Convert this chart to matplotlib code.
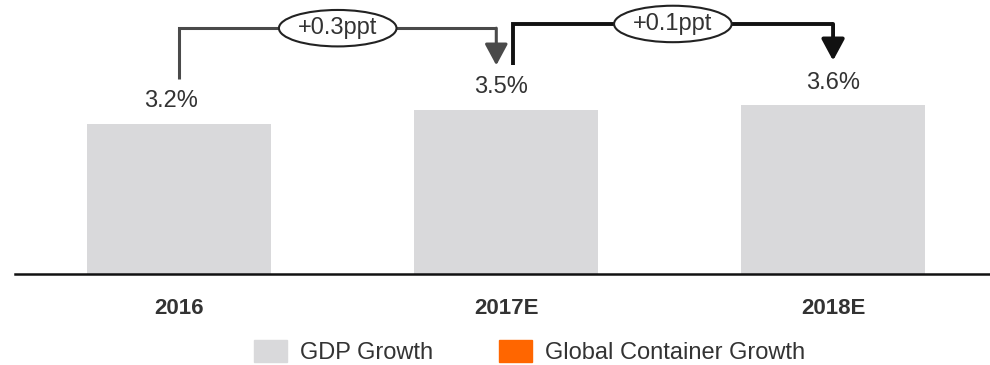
import matplotlib.pyplot as plt
from matplotlib.patches import Patch

plt.rcParams['font.family'] = ['Liberation Sans', 'DejaVu Sans']

# GDP growth by year
years = ['2016', '2017E', '2018E']
gdp_growth = [3.2, 3.5, 3.6]
value_labels = ['3.2%', '3.5%', '3.6%']
deltas = ['+0.3ppt', '+0.1ppt']

bar_color = '#d9d9db'
orange = '#ff6600'

fig = plt.figure(figsize=(9.9, 3.65), dpi=100)
# axes spans from the baseline (274 px from top) to the top edge
ax = fig.add_axes([15 / 990, 91 / 365, 975 / 990, 274 / 365])
ax.set_xlim(-0.502, 2.48)
ax.set_ylim(0, 274 / 47)

x = range(len(years))
ax.bar(x, gdp_growth, width=0.563, color=bar_color, zorder=2)

label_dx = [-6, -4, 0]
for xi, v, lab in zip(x, gdp_growth, value_labels):
    ax.annotate(lab, (xi, v), xytext=(label_dx[xi], 8),
                textcoords='offset points', ha='center', va='bottom',
                fontsize=17, color='#333333')

# brackets showing the change from one year to the next
bracket_colors = ['#4a4a4a', '#111111']
bracket_lw = [2.2, 2.8]
start_x = [0.0, 1.02]
end_x = [0.97, 2.0]
tops = [5.23, 5.32]
for i, d in enumerate(deltas):
    c = bracket_colors[i]
    x0, x1 = start_x[i], end_x[i]
    y0 = gdp_growth[i] + 0.94
    y1 = gdp_growth[i + 1] + 0.94
    top = tops[i]
    ax.plot([x0, x0, x1], [y0, top, top], color=c, lw=bracket_lw[i],
            solid_joinstyle='miter', solid_capstyle='butt', zorder=3)
    ax.annotate('', xy=(x1, y1), xytext=(x1, top),
                arrowprops=dict(arrowstyle='-|>,head_length=1.3,head_width=0.7',
                                color=c, lw=bracket_lw[i], shrinkA=0, shrinkB=0),
                zorder=3)
    ax.text((x0 + x1) / 2, top, d, ha='center', va='center', fontsize=17,
            color='#333333', zorder=4,
            bbox=dict(boxstyle='ellipse,pad=0.08', fc='white', ec='#222222', lw=1.5))

ax.set_xticks(list(x))
ax.set_xticklabels(years, fontsize=16, fontweight='bold', color='#333333')
ax.tick_params(axis='x', length=0, pad=17)
ax.set_yticks([])
for side in ['top', 'right', 'left']:
    ax.spines[side].set_visible(False)
ax.spines['bottom'].set_linewidth(1.8)
ax.spines['bottom'].set_color('#111111')
ax.patch.set_alpha(0)

handles = [Patch(color=bar_color, label='GDP Growth'),
           Patch(color=orange, label='Global Container Growth')]
fig.legend(handles=handles, loc='center', bbox_to_anchor=(0.535, 0.036),
           ncol=2, frameon=False, fontsize=17, handlelength=1.4,
           handleheight=1.05, handletextpad=0.55, columnspacing=2.8,
           labelcolor='#333333', borderpad=0)

fig.savefig('out.png', dpi=100)
